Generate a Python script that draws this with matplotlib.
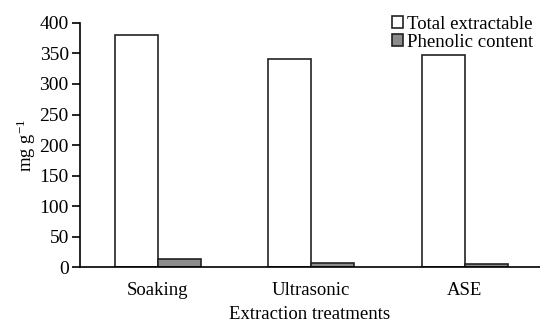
import numpy as np
import matplotlib
matplotlib.use("Agg")
import matplotlib.pyplot as plt

# ── Data ──────────────────────────────────────────────────────────────────────
treatments = ["Soaking", "Ultrasonic", "ASE"]
total_extractable = [380, 341, 347]
phenolic_content = [14, 6, 5]

plt.rcParams["font.family"] = ["Liberation Serif", "DejaVu Serif"]
plt.rcParams["mathtext.fontset"] = "custom"
plt.rcParams["mathtext.rm"] = "Liberation Serif"
plt.rcParams["mathtext.it"] = "Liberation Serif:italic"
FS = 13.5

fig = plt.figure(figsize=(5.4, 3.23), dpi=100)
ax = fig.add_axes([0.148, 0.173, 0.852, 0.756])

x = np.arange(len(treatments))
width = 0.28

ax.bar(x - width / 2, total_extractable, width, color="white",
       edgecolor="#222222", linewidth=1.2, label="Total extractable")
ax.bar(x + width / 2, phenolic_content, width, color="#8c8c8c",
       edgecolor="#222222", linewidth=1.2, label="Phenolic content")

ax.set_xlim(-0.506, 2.49)
ax.set_ylim(0, 400)
ax.set_yticks(range(0, 401, 50))
ax.set_xticks(x)
ax.set_xticklabels(treatments, fontsize=FS)
ax.tick_params(axis="x", length=0, pad=11)
ax.tick_params(axis="y", direction="out", length=6, width=1.2, labelsize=14, pad=2)

for side in ("top", "right"):
    ax.spines[side].set_visible(False)
ax.spines["left"].set_linewidth(1.2)
ax.spines["bottom"].set_linewidth(1.2)

ax.set_xlabel("Extraction treatments", fontsize=FS, labelpad=5)
ax.set_ylabel(r"mg g$^{-1}$", fontsize=FS, labelpad=1)

ax.legend(loc="upper right", bbox_to_anchor=(0.985, 1.03), frameon=False,
          fontsize=FS, handlelength=0.6, handleheight=0.6, handletextpad=0.2,
          labelspacing=0.05, borderaxespad=0, borderpad=0)

fig.savefig("out.png", dpi=100)
